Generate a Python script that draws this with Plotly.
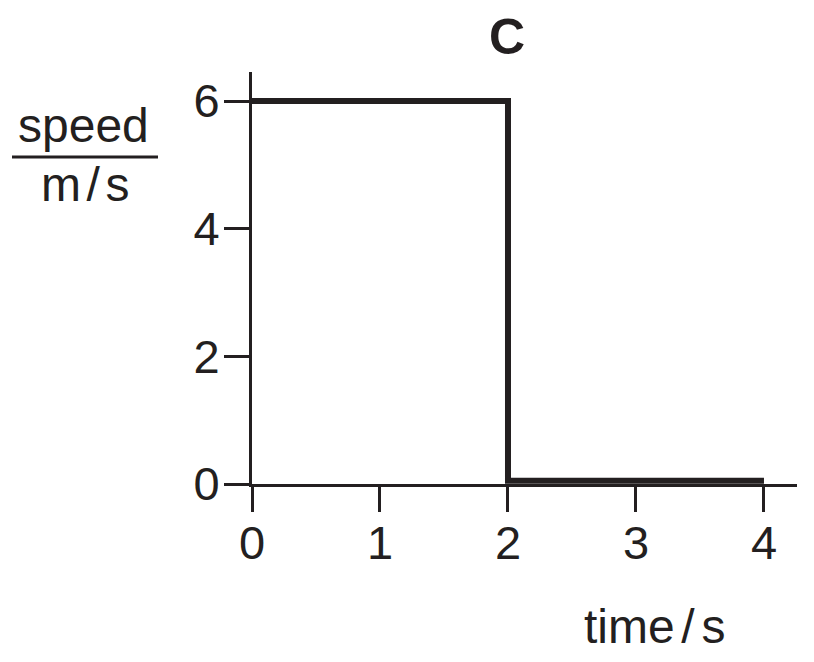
import plotly.graph_objects as go

# speed-time data for graph C
time_s = [0, 2, 2, 4]
speed_ms = [6, 6, 0.05, 0.05]

x_ticks = [0, 1, 2, 3, 4]
y_ticks = [0, 2, 4, 6]

INK = "#231f20"
FONT = "Liberation Sans, Arial, sans-serif"

# plot area in page pixels (page has 8px body margin)
L, T, W, H = 244, 64, 545, 412


def px(xp):
    return (xp - 8 - L) / W


def py(yp):
    return 1 - (yp - 8 - T) / H


def gap(size):
    # narrow space around the slash in unit labels
    return f"<span style='font-size:{size}px'> </span>"


fig = go.Figure()

fig.add_trace(go.Scatter(
    x=time_s,
    y=speed_ms,
    mode="lines",
    line=dict(color=INK, width=6),
    cliponaxis=False,
    showlegend=False,
    hoverinfo="skip",
))

axis_common = dict(
    showline=True,
    linecolor=INK,
    linewidth=3,
    ticks="outside",
    ticklen=25,
    tickwidth=3,
    tickcolor=INK,
    showgrid=False,
    zeroline=False,
    tickfont=dict(family=FONT, size=47, color=INK),
    fixedrange=True,
)

fig.update_xaxes(range=[0, 4.258], tickvals=x_ticks, ticklabelstandoff=-9, **axis_common)
fig.update_yaxes(range=[0, 6.455], tickvals=y_ticks, ticklabelstandoff=-5, **axis_common)

label_font = dict(family=FONT, size=48, color=INK)

fig.add_annotation(xref="paper", yref="paper", x=px(83), y=py(126), text="speed",
                   showarrow=False, font=label_font, xanchor="center", yanchor="middle")
fig.add_annotation(xref="paper", yref="paper", x=px(85), y=py(184),
                   text="m" + gap(20) + "/" + gap(20) + "s",
                   showarrow=False, font=label_font, xanchor="center", yanchor="middle")
fig.add_shape(type="line", xref="paper", yref="paper",
              x0=px(12), x1=px(158), y0=py(157), y1=py(157),
              line=dict(color=INK, width=3))

fig.add_annotation(xref="paper", yref="paper", x=px(654), y=py(626),
                   text="time" + gap(24) + "/" + gap(24) + "s",
                   showarrow=False, font=label_font, xanchor="center", yanchor="middle")

fig.add_annotation(xref="paper", yref="paper", x=px(507), y=py(37), text="<b>C</b>",
                   showarrow=False, font=dict(family=FONT, size=50, color=INK),
                   xanchor="center", yanchor="middle")

fig.update_layout(
    width=814,
    height=662,
    margin=dict(l=L, r=814 - L - W, t=T, b=662 - T - H),
    plot_bgcolor="white",
    paper_bgcolor="white",
)

fig.write_html("out.html")
